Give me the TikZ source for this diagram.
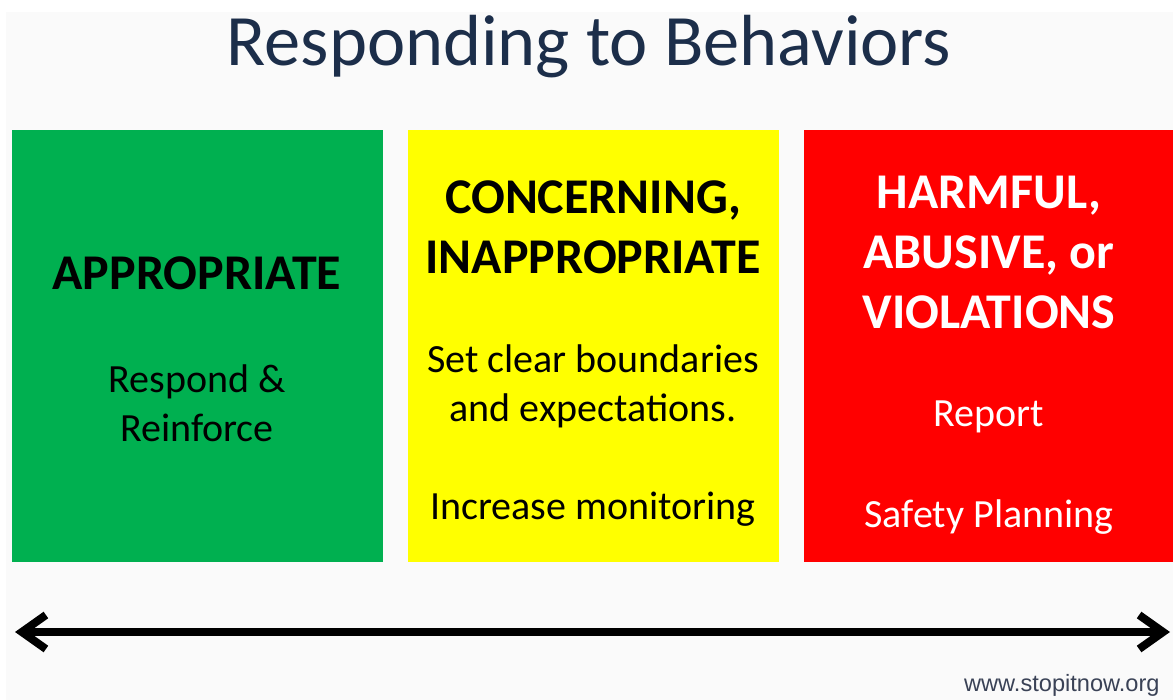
\documentclass[tikz,border=0pt]{standalone}
\usepackage{fontspec}
\setmainfont{Carlito}
\newfontfamily\urlfont{Liberation Sans}
\usetikzlibrary{arrows.meta}
\definecolor{titleblue}{HTML}{1C2E4A}
\definecolor{boxgreen}{HTML}{00B050}
\definecolor{boxyellow}{HTML}{FFFF00}
\definecolor{boxred}{HTML}{FF0000}
\definecolor{urlgray}{HTML}{3A4256}
\tikzset{
  panel/.style={draw=none, minimum width=185.5pt, minimum height=216pt, inner sep=0pt},
  headtext/.style={font=\fontsize{25}{30}\selectfont\bfseries, align=center},
  bodytext/.style={font=\fontsize{20}{24.5}\selectfont, align=center},
}
\begin{document}
\begin{tikzpicture}[x=0.5pt, y=-0.5pt]

\useasboundingbox[fill=white] (0,0) rectangle (1173,700);
\fill[black!2] (6,12) rectangle (1173,700);

    \coordinate (left-end) at (15,632);
    \coordinate (right-end) at (1170,632);

% titulo
\node[text=titleblue, font=\fontsize{36.2}{42}\selectfont, anchor=base] (title) at (589,66) {Responding to Behaviors};

% caixas
\node[panel, fill=boxgreen] (green) at (197.5,346) {};
\node[panel, fill=boxyellow] (yellow) at (593.5,346) {};
\node[panel, fill=boxred] (red) at (989,346) {};

% textos verdes
\node[headtext] (appropriate) at (197,273) {APPROPRIATE};
\node[bodytext] (respond) at (197,403) {Respond \&\\Reinforce};

% textos amarelos
\node[headtext] (concerning) at (593,227) {CONCERNING,\\INAPPROPRIATE};
\node[bodytext] (boundaries) at (593,386) {Set clear boundaries\\and expectations.};
\node[bodytext] (monitoring) at (593,509) {Increase monitoring};

% textos vermelhos
\node[headtext, text=white] (harmful) at (989,252) {HARMFUL,\\ABUSIVE, or\\VIOLATIONS};
\node[bodytext, text=white] (report) at (989,417) {Report};
\node[bodytext, text=white] (safety) at (989,517) {Safety Planning};

% seta dupla
\draw[line width=4pt, {Straight Barb[length=12pt, width=17pt]}-{Straight Barb[length=12pt, width=17pt]}] (left-end) -- (right-end);

\node[text=urlgray, font=\urlfont\fontsize{11.8}{14}\selectfont, anchor=east, inner sep=0pt] (url) at (1160,685) {www.stopitnow.org};

\end{tikzpicture}
\end{document}
